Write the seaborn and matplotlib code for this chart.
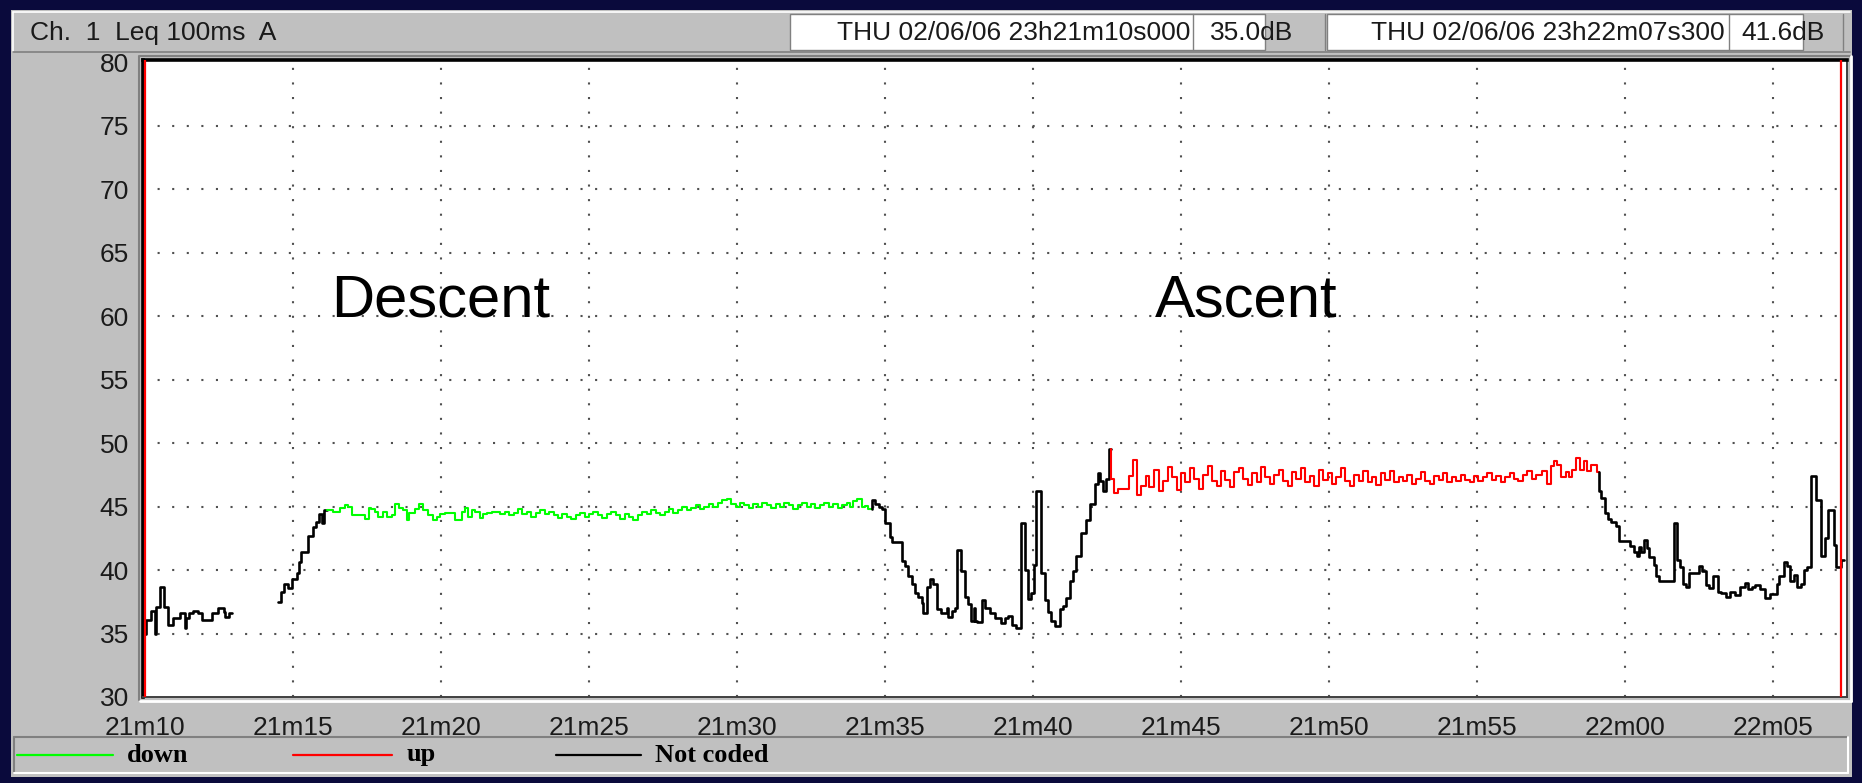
import matplotlib
matplotlib.use("Agg")
import matplotlib.pyplot as plt
from matplotlib.patches import Rectangle
import seaborn as sns
import pandas as pd

# ---------------- data (time in s after 21m00, level in dB) ----------------
black1_t = [10.00, 10.02, 10.19, 10.32, 10.37, 10.51, 10.64, 10.79, 10.93, 11.18, 11.35,
            11.39, 11.50, 11.63, 11.80, 11.91, 12.25, 12.48, 12.65, 12.70, 12.82]
black1_v = [35.0, 36.1, 36.8, 35.0, 37.1, 38.7, 37.1, 35.7, 36.2, 36.6, 35.4,
            36.2, 36.6, 36.8, 36.6, 36.1, 36.6, 37.0, 36.7, 36.3, 36.6]
black1_end = 12.95

black2_t = [14.50, 14.58, 14.70, 14.84, 14.95, 15.12, 15.21, 15.27, 15.52, 15.66, 15.78,
            15.86, 15.97, 16.05]
black2_v = [37.5, 38.3, 38.9, 38.6, 39.3, 39.8, 40.6, 41.4, 42.7, 43.4, 43.8,
            44.4, 43.7, 44.7]
black2_end = 16.14

down_t = [16.14, 16.36, 16.59, 16.76, 16.87, 16.98, 17.43, 17.55, 17.62, 17.77, 17.88,
          18.05, 18.16, 18.33, 18.45, 18.59, 18.73, 18.84, 18.90, 19.12, 19.27, 19.40,
          19.57, 19.74, 19.85, 19.97, 20.14, 20.47, 20.70, 20.81, 20.92, 21.04, 21.15,
          21.32, 21.43, 21.54, 21.71,
          22.00, 22.15, 22.30, 22.45, 22.60, 22.75, 22.90, 23.05, 23.20, 23.35, 23.50,
          23.65, 23.80, 23.95, 24.10, 24.25, 24.40, 24.55, 24.70, 24.85, 25.00, 25.15,
          25.30, 25.45, 25.60, 25.75, 25.90, 26.05, 26.20, 26.35, 26.50, 26.65, 26.80,
          26.95, 27.10, 27.25, 27.40, 27.55, 27.70, 27.85, 28.00, 28.15, 28.30, 28.45,
          28.60, 28.75, 28.90, 29.05, 29.20, 29.35, 29.50, 29.65, 29.80, 29.95, 30.10,
          30.25, 30.40, 30.55, 30.70, 30.85, 31.00, 31.15, 31.30, 31.45, 31.60, 31.75,
          31.90, 32.05, 32.20, 32.35, 32.50, 32.65, 32.80, 32.95, 33.10, 33.25, 33.40,
          33.55, 33.70, 33.82, 33.93, 34.04, 34.21, 34.33, 34.44]
down_v = [44.7, 44.6, 44.9, 45.1, 45.0, 44.3, 44.0, 44.9, 44.8, 44.6, 44.2,
          44.6, 44.2, 44.3, 45.2, 44.9, 44.7, 43.9, 44.5, 44.8, 45.2, 44.7,
          44.3, 43.9, 44.2, 44.4, 44.5, 43.9, 44.6, 44.9, 44.2, 44.7, 44.6,
          44.1, 44.4, 44.5, 44.6,
          44.4, 44.6, 44.3, 44.5, 44.8, 44.4, 44.6, 44.2, 44.5, 44.7, 44.4,
          44.6, 44.3, 44.1, 44.4, 44.2, 44.0, 44.3, 44.5, 44.2, 44.4, 44.6,
          44.3, 44.1, 44.4, 44.6, 44.3, 44.0, 44.4, 44.2, 43.9, 44.3, 44.6,
          44.4, 44.7, 44.5, 44.3, 44.6, 44.8, 44.5, 44.7, 45.0, 44.7, 44.9,
          45.1, 44.8, 45.0, 45.2, 45.0, 45.3, 45.5, 45.6, 45.2, 45.0, 45.3,
          45.1, 44.9, 45.2, 45.0, 45.3, 45.1, 44.9, 45.2, 45.0, 45.3, 45.1,
          44.8, 45.1, 45.3, 45.0, 45.2, 44.9, 45.1, 45.3, 45.0, 45.2, 44.9,
          45.1, 45.3, 45.0, 45.4, 45.6, 45.0, 45.05, 44.8]
down_end = 34.55

black3_t = [34.55, 34.66, 34.78, 34.89, 35.00, 35.17, 35.22, 35.56, 35.67, 35.79, 35.90,
            36.01, 36.12, 36.24, 36.29, 36.43, 36.52, 36.63, 36.76, 36.88, 37.08, 37.13,
            37.25, 37.36, 37.44, 37.58, 37.70, 37.81, 37.92, 38.00, 38.04, 38.09, 38.29,
            38.37, 38.54, 38.71, 38.93, 39.04, 39.16, 39.29, 39.44, 39.58, 39.72, 39.83,
            39.92, 40.02, 40.09, 40.28, 40.39, 40.51, 40.62, 40.73, 40.90, 41.01, 41.12,
            41.24, 41.35, 41.46, 41.63, 41.80, 41.91, 42.08, 42.19, 42.25, 42.36, 42.47,
            42.56]
black3_v = [45.5, 45.2, 45.0, 44.8, 43.7, 42.6, 42.2, 40.7, 40.3, 39.5, 38.9,
            38.2, 37.9, 37.4, 36.6, 38.7, 39.3, 38.9, 36.9, 36.6, 37.0, 36.3,
            36.8, 37.0, 41.6, 39.9, 37.9, 37.3, 36.0, 37.0, 36.0, 35.9, 37.6,
            37.0, 36.6, 36.2, 35.8, 36.2, 36.4, 35.7, 35.4, 43.7, 40.0, 37.7,
            38.2, 40.4, 46.2, 39.8, 37.6, 36.7, 36.0, 35.6, 36.9, 37.2, 37.8,
            39.1, 39.9, 41.1, 42.9, 43.9, 45.2, 46.8, 47.6, 47.0, 46.2, 47.2,
            49.5]
black3_end = 42.64

up_t = [42.64, 42.75, 42.87, 43.24, 43.37, 43.51, 43.65, 43.82, 43.93,
        44.10, 44.25, 44.40, 44.55, 44.70, 44.85, 45.00, 45.15, 45.30, 45.45, 45.60,
        45.75, 45.90, 46.05, 46.20, 46.35, 46.50, 46.65, 46.80, 46.95, 47.10, 47.25,
        47.40, 47.55, 47.70, 47.85, 48.00, 48.15, 48.30, 48.45, 48.60, 48.75, 48.90,
        49.05, 49.20, 49.35, 49.50, 49.65, 49.80, 49.95, 50.10, 50.25, 50.40, 50.55,
        50.70, 50.85, 51.00, 51.15, 51.30, 51.45, 51.60, 51.75, 51.90, 52.05, 52.20,
        52.35, 52.50, 52.65, 52.80, 52.95, 53.10, 53.25, 53.40, 53.55, 53.70, 53.85,
        54.00, 54.15, 54.30, 54.45, 54.60, 54.75, 54.90, 55.05, 55.20, 55.35, 55.50,
        55.65, 55.80, 55.95, 56.10, 56.25, 56.40, 56.55, 56.70, 56.85, 57.00, 57.20,
        57.37, 57.49, 57.60, 57.69, 57.85, 58.00, 58.12, 58.20, 58.34, 58.48, 58.60,
        58.72, 58.84, 59.05]
up_v = [47.2, 46.1, 46.4, 47.4, 48.7, 45.9, 46.6, 47.4, 46.5,
        47.9, 46.2, 47.0, 48.1, 47.3, 46.3, 47.6, 46.9, 48.0, 47.2, 46.4,
        47.5, 48.2, 47.0, 46.6, 47.8, 47.1, 46.5, 47.7, 48.0, 47.2, 46.7,
        47.6, 46.9, 48.1, 47.3, 46.8, 47.5, 47.9, 47.0, 46.6, 47.7, 47.2,
        48.0, 46.9, 47.4, 46.6, 47.9, 47.1, 47.6, 46.8, 47.3, 48.0, 47.0,
        46.6, 47.5, 47.0, 47.8, 46.9, 47.3, 46.7, 47.6, 47.1, 47.8, 46.9,
        47.3, 47.0, 47.5, 46.8, 47.2, 47.7, 47.0, 46.8, 47.4, 47.1, 47.6,
        46.9, 47.3, 47.0, 47.5, 47.1, 46.9, 47.4, 47.0, 47.3, 47.6, 47.1,
        47.4, 46.9, 47.3, 47.6, 47.2, 47.0, 47.5, 47.8, 47.2, 47.5, 47.8,
        46.8, 48.2, 48.6, 48.3, 47.3, 47.7, 47.3, 47.9, 48.8, 47.9, 48.6,
        47.8, 48.3, 47.7]
up_end = 59.12

black4_t = [59.12, 59.20, 59.34, 59.43, 59.54, 59.71, 59.79, 60.17, 60.29, 60.40, 60.48,
            60.55, 60.63, 60.74, 60.82, 60.97, 61.05, 61.16, 61.66, 61.77, 61.85, 61.96,
            62.05, 62.17, 62.49, 62.60, 62.74, 62.85, 62.97, 63.14, 63.25, 63.42, 63.54,
            63.71, 63.88, 64.05, 64.17, 64.28, 64.39, 64.57, 64.74, 64.91, 65.14, 65.19,
            65.37, 65.48, 65.59, 65.71, 65.82, 65.94, 66.05, 66.16, 66.30, 66.45, 66.62,
            66.76, 66.85, 67.05, 67.13, 67.31]
black4_v = [46.2, 45.7, 44.5, 44.0, 43.8, 43.5, 42.3, 41.9, 41.4, 41.1, 41.8,
            41.4, 42.4, 41.7, 41.0, 40.4, 39.5, 39.1, 43.7, 40.8, 40.2, 38.9,
            38.7, 39.8, 40.3, 39.9, 38.8, 38.6, 39.5, 38.3, 38.2, 37.9, 38.3,
            38.0, 38.7, 39.0, 38.5, 38.7, 38.8, 38.5, 37.8, 38.1, 38.9, 39.5,
            40.6, 40.3, 39.1, 39.6, 38.7, 38.9, 40.0, 40.2, 47.4, 45.5, 41.1,
            42.5, 44.7, 42.0, 40.2, 40.8]
black4_end = 67.40

cursor_times = [10.0, 67.3]
x_ticks = [10, 15, 20, 25, 30, 35, 40, 45, 50, 55, 60, 65]
x_tick_labels = ["21m10", "21m15", "21m20", "21m25", "21m30", "21m35",
                 "21m40", "21m45", "21m50", "21m55", "22m00", "22m05"]
y_ticks = [30, 35, 40, 45, 50, 55, 60, 65, 70, 75, 80]
legend_labels = ["down", "up", "Not coded"]
header_title = "Ch.  1  Leq 100ms  A"
cursor1_text, cursor1_val = "THU 02/06/06 23h21m10s000", "35.0dB"
cursor2_text, cursor2_val = "THU 02/06/06 23h22m07s300", "41.6dB"
annotations = [("Descent", 16.30, 60.0), ("Ascent", 44.10, 60.0)]

# ---------------- figure ----------------
sns.set_theme(style="white")
plt.rcParams["font.family"] = ["Liberation Sans", "DejaVu Sans"]

W, H = 1862, 783
fig = plt.figure(figsize=(W / 100, H / 100), dpi=100)
fig.patch.set_facecolor("#0a0a3c")

bg = fig.add_axes([0, 0, 1, 1], zorder=0)
bg.set_xlim(0, W)
bg.set_ylim(H, 0)
bg.axis("off")

GRAY = "#c0c0c0"
bg.add_patch(Rectangle((11, 10), 1841, 767, fc=GRAY, ec="none"))
# header area borders
bg.plot([13, 1850], [12, 12], color="white", lw=1.2)
bg.plot([13, 13], [12, 52], color="white", lw=1.2)
bg.plot([13, 1850], [52, 52], color="#808080", lw=1.2)
# cursor boxes
bg.add_patch(Rectangle((790, 14), 475, 36, fc="white", ec="#808080", lw=1))
bg.plot([1193, 1193], [14, 50], color="#808080", lw=1)
bg.plot([1325, 1325], [14, 50], color="#808080", lw=1)
bg.add_patch(Rectangle((1327, 14), 476, 36, fc="white", ec="#808080", lw=1))
bg.plot([1729, 1729], [14, 50], color="#808080", lw=1)
bg.plot([1843, 1843], [14, 50], color="#808080", lw=1)

hfs = 19
bg.text(30, 33, header_title, fontsize=hfs, color="#1a1a1a", va="center", ha="left")
bg.text(1190, 33, cursor1_text, fontsize=hfs, color="#1a1a1a", va="center", ha="right")
bg.text(1210, 33, cursor1_val, fontsize=hfs, color="#1a1a1a", va="center", ha="left")
bg.text(1725, 33, cursor2_text, fontsize=hfs, color="#1a1a1a", va="center", ha="right")
bg.text(1741, 33, cursor2_val, fontsize=hfs, color="#1a1a1a", va="center", ha="left")

# plot frame 3D edges
bg.plot([140, 1850], [56, 56], color="#808080", lw=1.5)
bg.plot([139, 139], [56, 700], color="#808080", lw=1.5)
bg.plot([140, 1851], [701, 701], color="white", lw=2)
bg.plot([1851, 1851], [56, 701], color="white", lw=2)

# legend bar
bg.add_patch(Rectangle((14, 737), 1834, 36, fc=GRAY, ec="none"))
bg.plot([14, 1848], [737, 737], color="#808080", lw=1.5)
bg.plot([14, 14], [737, 773], color="#808080", lw=1.5)
bg.plot([14, 1848], [773, 773], color="white", lw=1.5)
bg.plot([1848, 1848], [737, 773], color="white", lw=1.5)

leg_colors = ["#00ff00", "#ff0000", "#000000"]
leg_line_x = [(17, 113), (293, 392), (556, 641)]
leg_text_x = [127, 407, 655]
for lab, col, (x0, x1), tx in zip(legend_labels, leg_colors, leg_line_x, leg_text_x):
    bg.plot([x0, x1], [755, 755], color=col, lw=1.6)
    bg.text(tx, 755, lab, fontsize=19, fontweight="bold", va="center", ha="left",
            family=["Liberation Serif", "DejaVu Serif"], color="black")

# ---------------- main axes ----------------
ax_left, ax_right, ax_top, ax_bottom = 143, 1847, 60, 697
ax = fig.add_axes([ax_left / W, (H - ax_bottom) / H, (ax_right - ax_left) / W,
                   (ax_bottom - ax_top) / H], zorder=2)
ax.set_facecolor("white")


def seg_frame(ts, vs, end, name, prev_val=None):
    """Step frame; optionally begin with a vertical joint from the previous segment."""
    t = list(ts) + [end]
    v = list(vs) + [vs[-1]]
    if prev_val is not None:
        t = [ts[0]] + t
        v = [prev_val] + v
    return pd.DataFrame({"t": t, "dB": v, "seg": name})


segments = [
    (seg_frame(black1_t, black1_v, black1_end, "b1"), "#000000", 1.9),
    (seg_frame(black2_t, black2_v, black2_end, "b2"), "#000000", 1.9),
    (seg_frame(down_t, down_v, down_end, "down", black2_v[-1]), "#00ff00", 1.5),
    (seg_frame(black3_t, black3_v, black3_end, "b3", down_v[-1]), "#000000", 1.9),
    (seg_frame(up_t, up_v, up_end, "up", black3_v[-1]), "#ff0000", 1.5),
    (seg_frame(black4_t, black4_v, black4_end, "b4", up_v[-1]), "#000000", 1.9),
]

# grid
for xt in x_ticks[1:]:
    ax.axvline(xt, color="#505050", lw=1.5, ls=(0, (1, 6)), zorder=1)
for yt in y_ticks[1:-1]:
    ax.axhline(yt, color="#505050", lw=1.5, ls=(0, (1, 6)), zorder=1)

for df, col, lw in segments:
    sns.lineplot(data=df, x="t", y="dB", color=col, lw=lw, drawstyle="steps-post",
                 estimator=None, sort=False, ax=ax, legend=False, zorder=3)

for ct in cursor_times:
    ax.axvline(ct, color="#ff0000", lw=1.6, zorder=4)

for txt, tx, ty in annotations:
    ax.text(tx, ty, txt, fontsize=43, color="black", ha="left", va="baseline", zorder=5)

ax.set_xlim(9.93, 67.50)
ax.set_ylim(30, 80.16)
ax.set_xticks(x_ticks)
ax.set_xticklabels(x_tick_labels)
ax.set_yticks(y_ticks)
ax.set_yticklabels([str(v) for v in y_ticks])
ax.set_xlabel("")
ax.set_ylabel("")
ax.tick_params(axis="both", direction="out", length=8, width=1.3, color="#333333",
               labelsize=19, labelcolor="#1a1a1a")
ax.tick_params(axis="x", pad=6)
ax.tick_params(axis="y", pad=2)
ax.grid(False)
for side in ["left", "top"]:
    ax.spines[side].set_color("black")
    ax.spines[side].set_linewidth(2.6)
for side in ["right", "bottom"]:
    ax.spines[side].set_color("#404040")
    ax.spines[side].set_linewidth(1.4)

fig.savefig("out.png", dpi=100, facecolor=fig.get_facecolor())
